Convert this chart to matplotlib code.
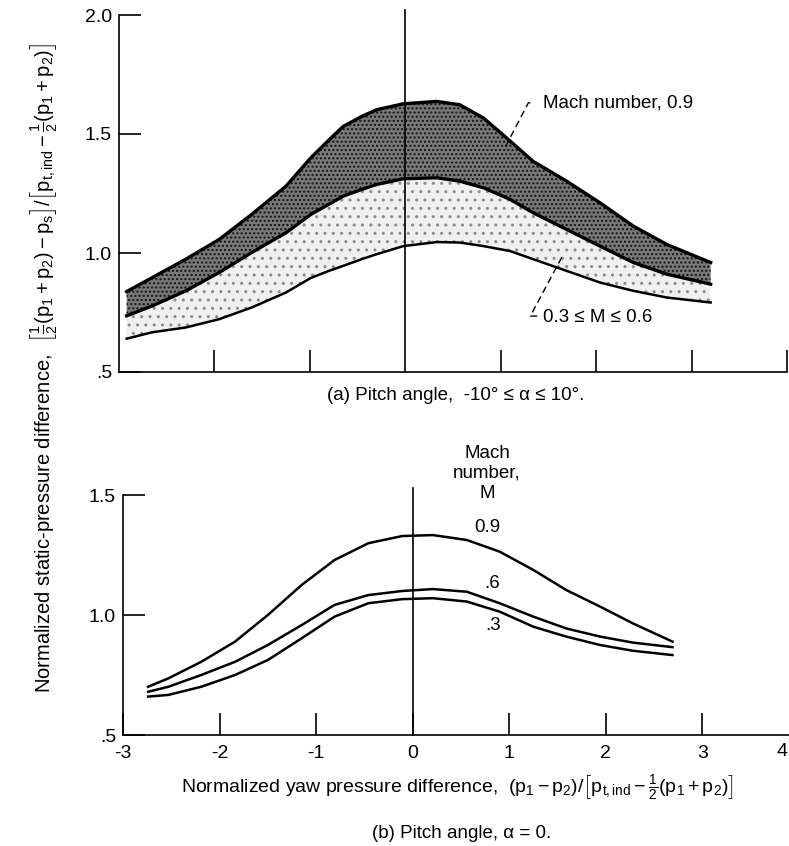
import numpy as np
import matplotlib
matplotlib.use('Agg')
import matplotlib.pyplot as plt

fam = 'Liberation Sans'
plt.rcParams['font.family'] = [fam, 'DejaVu Sans']
plt.rcParams['mathtext.fontset'] = 'custom'
plt.rcParams['mathtext.rm'] = fam
plt.rcParams['mathtext.it'] = fam
plt.rcParams['mathtext.bf'] = fam

"""## Data read off the figure"""

# (a) pitch angle -10 <= alpha <= 10 : band edges
xa = [-2.92, -2.65, -2.30, -1.95, -1.61, -1.25, -0.99, -0.80, -0.65, -0.45, -0.30, -0.02,
      0.33, 0.57, 0.82, 1.10, 1.34, 1.69, 2.04, 2.39, 2.74, 3.20]
ya_hi = [0.838, 0.897, 0.974, 1.057, 1.162, 1.281, 1.40, 1.475, 1.532, 1.575, 1.602, 1.627,
         1.637, 1.623, 1.567, 1.47, 1.385, 1.302, 1.211, 1.113, 1.036, 0.960]
ya_mid = [0.736, 0.778, 0.841, 0.918, 1.002, 1.085, 1.162, 1.205, 1.239, 1.268, 1.288, 1.312,
          1.316, 1.302, 1.274, 1.225, 1.169, 1.099, 1.029, 0.960, 0.911, 0.869]
ya_lo = [0.64, 0.667, 0.687, 0.722, 0.771, 0.834, 0.895, 0.925, 0.946, 0.975, 0.995, 1.029,
         1.046, 1.044, 1.029, 1.008, 0.974, 0.925, 0.876, 0.841, 0.813, 0.792]

# (b) pitch angle 0 : one curve per Mach number
xb = [-2.74, -2.53, -2.19, -1.84, -1.50, -1.15, -0.81, -0.46, -0.11,
      0.21, 0.56, 0.90, 1.25, 1.59, 1.94, 2.28, 2.69]
yb_09 = [0.701, 0.736, 0.805, 0.889, 1.0, 1.125, 1.229, 1.299, 1.329,
         1.333, 1.3125, 1.264, 1.1875, 1.104, 1.035, 0.965, 0.889]
yb_06 = [0.680, 0.701, 0.75, 0.805, 0.875, 0.958, 1.042, 1.083, 1.100,
         1.108, 1.097, 1.049, 0.993, 0.944, 0.910, 0.885, 0.866]
yb_03 = [0.660, 0.667, 0.701, 0.75, 0.8125, 0.903, 0.993, 1.049, 1.066,
         1.07, 1.056, 1.014, 0.951, 0.910, 0.875, 0.851, 0.833]
mach_labels = ['0.9', '.6', '.3']

half = r'\frac{1}{2}'
ylab = (r'Normalized static-pressure difference,  '
        r'$\left[' + half + r'(\mathrm{p}_1 + \mathrm{p}_2) - \mathrm{p}_s\right]'
        r'/\left[\mathrm{p}_{t,\mathrm{ind}} - ' + half + r'(\mathrm{p}_1 + \mathrm{p}_2)\right]$')
xlab = (r'Normalized yaw pressure difference,  '
        r'$(\mathrm{p}_1 - \mathrm{p}_2)/\left[\mathrm{p}_{t,\mathrm{ind}} - ' + half
        + r'(\mathrm{p}_1 + \mathrm{p}_2)\right]$')

W, H = 789, 846
fig = plt.figure(figsize=(W / 100, H / 100), dpi=100)
FS = 13.5


def px_axes(left, right, top, bottom):
    return fig.add_axes([left / W, 1 - bottom / H, (right - left) / W, (bottom - top) / H])


def style(ax):
    for s in ['top', 'right']:
        ax.spines[s].set_visible(False)
    for s in ['left', 'bottom']:
        ax.spines[s].set_linewidth(1.2)
    ax.tick_params(direction='in', length=16, width=1.2, labelsize=14, pad=5)


"""## (a)"""
ax1 = px_axes(119, 787, 15, 372)
style(ax1)
ax1.set_xlim(-3, 4)
ax1.set_ylim(0.5, 2.0)
ax1.set_xticks([-2, -1, 1, 2, 3, 4])
ax1.set_xticklabels([])
ax1.set_yticks([0.5, 1.0, 1.5, 2.0])
ax1.set_yticklabels(['.5', '1.0', '1.5', '2.0'])

ax1.fill_between(xa, ya_mid, ya_hi, facecolor='#787878', edgecolor='#111111',
                 hatch='....', linewidth=0)
ax1.fill_between(xa, ya_lo, ya_mid, facecolor='#f0f0f0', edgecolor='#8a8a8a',
                 hatch='..', linewidth=0)
ax1.plot(xa, ya_hi, color='black', lw=2.4)
ax1.plot(xa, ya_mid, color='black', lw=2.4)
ax1.plot(xa, ya_lo, color='black', lw=1.8)
ax1.plot([0, 0], [0.5, 2.02], color='black', lw=1.2, clip_on=False)

# leaders
ax1.plot([1.05, 1.29, 1.35], [1.447, 1.631, 1.631], color='black', lw=1.0, ls=(0, (5, 3)))
ax1.text(1.44, 1.631, 'Mach number, 0.9', fontsize=FS, va='center', ha='left')
ax1.plot([1.64, 1.31, 1.39], [0.982, 0.735, 0.735], color='black', lw=1.0, ls=(0, (5, 3)))
ax1.text(1.44, 0.73, '0.3 \u2264 M \u2264 0.6', fontsize=FS, va='center', ha='left')

fig.text(456 / W, 1 - 395 / H, '(a) Pitch angle,  -10\u00b0 \u2264 \u03b1 \u2264 10\u00b0.',
         fontsize=FS, ha='center', va='center')

"""## (b)"""
ax2 = px_axes(123, 799, 495, 735)
style(ax2)
ax2.set_xlim(-3, 4)
ax2.set_ylim(0.5, 1.5)
ax2.set_xticks([-3, -2, -1, 0, 1, 2, 3, 4])
ax2.set_xticklabels(['-3', '-2', '-1', '0', '1', '2', '3', ''])
ax2.set_yticks([0.5, 1.0, 1.5])
ax2.set_yticklabels(['.5', '1.0', '1.5'])
ax2.tick_params(axis='x', pad=7)
# the "4" sits right at the page edge
fig.text(782 / W, 1 - 751 / H, '4', fontsize=14, ha='center', va='center')

for yv in [yb_09, yb_06, yb_03]:
    ax2.plot(xb, yv, color='black', lw=1.8)
ax2.plot([0, 0], [0.5, 1.53], color='black', lw=1.2, clip_on=False)

ax2.text(0.77, 1.59, 'Mach\nnumber,\nM', fontsize=FS, ha='center', va='center',
         linespacing=1.25)
for lab, yy, xx in zip(mach_labels, [1.3625, 1.133, 0.958], [0.77, 0.82, 0.83]):
    ax2.text(xx, yy, lab, fontsize=FS, ha='center', va='center')

fig.text(457 / W, 1 - 788 / H, xlab, fontsize=14, ha='center', va='center')
fig.text(462 / W, 1 - 833 / H, '(b) Pitch angle, \u03b1 = 0.', fontsize=FS,
         ha='center', va='center')

fig.text(44 / W, 1 - 368 / H, ylab, fontsize=14.5, rotation=90, ha='center', va='center')

plt.savefig('out.png', dpi=100)
